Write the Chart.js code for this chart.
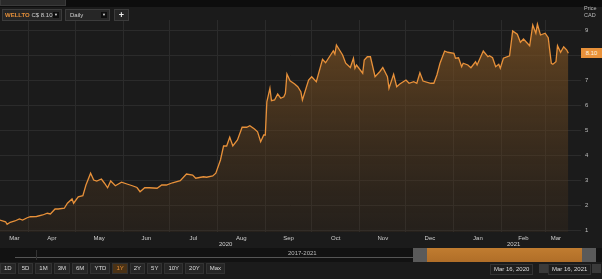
<!DOCTYPE html>
<html>
<head>
<meta charset="utf-8">
<script src="https://cdn.jsdelivr.net/npm/chart.js@4.4.1/dist/chart.umd.min.js"></script>
<style>
  html, body { margin: 0; padding: 0; background: #1b1b1b; overflow: hidden; }
  body { width: 602px; height: 279px; position: relative; font-family: "Liberation Sans", Arial, sans-serif; color: #cfcfcf; }
  #wrap { position: absolute; left: 0; top: 0; width: 602px; height: 250px; }
  .abs { position: absolute; }
  .topbar { left: 0; top: 0; width: 602px; height: 7px; background: #0d0d0d; }
  .topbox { left: 0; top: 0; width: 64px; height: 5px; background: #2a2a2a; border: 1px solid #3a3a3a; border-top: 0; }
  .box { height: 10px; background: #262626; border: 1px solid #3c3c3c; font-size: 6px; line-height: 10px; }
  .arrow { position: absolute; right: 2px; top: 2px; width: 6px; height: 6px; background: #0e0e0e; font-size: 4px; line-height: 6px; text-align: center; color: #ddd; }
  .ylab { font-size: 5.5px; color: #bdbdbd; }
  .yr { font-size: 6px; color: #cfcfcf; top: 241px; }
  .nav { left: 0; top: 248px; width: 602px; height: 14px; background: #121212; }
  .btns { left: 0; top: 263px; height: 11px; font-size: 6px; }
  .btn { display: inline-block; height: 9px; line-height: 9px; padding: 0 3px; margin-right: 2px; background: #262626; border: 1px solid #333; color: #ddd; }
  .btn.on { background: #4a3216; color: #e8913a; }
  .date { top: 264px; height: 9px; line-height: 9px; font-size: 6px; background: #1e1e1e; border: 1px solid #333; padding: 0 3px; color: #ddd; }
  .cal { top: 264px; width: 9px; height: 9px; background: #3a3a3a; }
</style>
</head>
<body>
<div id="wrap"><canvas id="chart" width="602" height="250"></canvas></div>

<div class="abs topbar"></div>
<div class="abs topbox"></div>
<div class="abs box" style="left:2px;top:9px;width:58px;"><span style="color:#e8913a;font-weight:bold;padding-left:2px">WELLTO</span> C$ 8.10<div class="arrow">&#9660;</div></div>
<div class="abs box" style="left:65px;top:9px;width:43px;"><span style="padding-left:4px">Daily</span><div class="arrow">&#9660;</div></div>
<div class="abs box" style="left:114px;top:9px;width:13px;text-align:center;font-size:9px;font-weight:bold;color:#eee">+</div>
<div class="abs ylab" style="left:584px;top:5px">Price</div>
<div class="abs ylab" style="left:584px;top:12px">CAD</div>
<div class="abs" style="left:581px;top:48px;width:21px;height:10px;background:#e8913a;color:#fff3e0;font-size:6px;line-height:10px;text-align:center">8.10</div>
<div class="abs yr" style="left:219px">2020</div>
<div class="abs yr" style="left:507px">2021</div>

<div class="abs nav">
  <div class="abs" style="left:15px;top:9px;width:400px;height:1px;background:#555"></div>
  <div class="abs" style="left:36px;top:2px;width:1px;height:10px;background:#333"></div>
  <div class="abs" style="left:288px;top:2px;font-size:6px;color:#bbb">2017-2021</div>
  <div class="abs" style="left:413px;top:0;width:14px;height:14px;background:#5a5a5a"></div>
  <div class="abs" style="left:427px;top:0;width:155px;height:14px;background:linear-gradient(#c07c30,#b06e28)"></div>
  <div class="abs" style="left:582px;top:0;width:14px;height:14px;background:#5a5a5a"></div>
</div>

<div class="abs btns">
  <span class="btn">1D</span><span class="btn">5D</span><span class="btn">1M</span><span class="btn">3M</span><span class="btn">6M</span><span class="btn">YTD</span><span class="btn on">1Y</span><span class="btn">2Y</span><span class="btn">5Y</span><span class="btn">10Y</span><span class="btn">20Y</span><span class="btn">Max</span>
</div>
<div class="abs date" style="left:490px">Mar 16, 2020</div>
<div class="abs cal" style="left:539px"></div>
<div class="abs date" style="left:548px">Mar 16, 2021</div>
<div class="abs cal" style="left:592px"></div>

<script>
// days since Mar 16, 2020 and closing price (CAD)
const days = [-3, 1, 2, 4, 7, 10, 12, 15, 17, 21, 25, 28, 30, 33, 35, 39, 41, 44, 45, 48, 51, 53, 56, 58, 60, 63, 65, 67, 69, 72, 76, 80, 83, 86, 88, 91, 94,
  99, 102, 105, 109, 114, 118, 122, 124, 129, 131, 135, 137, 140, 142, 144, 146, 148, 151, 154, 157, 159, 162, 164, 166, 168, 169, 170, 172, 173, 175, 177, 179, 181, 182, 183, 185, 188,
  190, 192, 193, 197, 199, 202, 206, 208, 213, 214, 215, 219, 221, 224, 226, 227, 228, 232, 233, 235, 237, 240, 243, 245, 248, 249, 252, 254, 256, 260, 262, 265, 267, 269, 271, 276, 278,
  280, 282, 285, 287, 291, 292, 294, 296, 297, 300, 302, 305, 306, 310, 313, 314, 316, 318, 320, 321, 323, 327, 329, 332, 334, 336, 340, 342, 344, 345, 347, 350, 352, 354, 355, 357, 358, 360, 362, 364, 365];
const prices = [1.43, 1.36, 1.26, 1.34, 1.39, 1.47, 1.43, 1.52, 1.56, 1.57, 1.63, 1.70, 1.67, 1.87, 1.87, 1.90, 2.10, 2.27, 2.10, 2.36, 2.40, 2.83, 3.30, 3.03, 2.99, 3.07, 2.90, 2.72, 2.99, 2.80, 2.94, 2.86, 2.80, 2.73, 2.56, 2.72, 2.72,
  2.70, 2.83, 2.83, 2.92, 3.00, 3.27, 3.23, 3.10, 3.16, 3.14, 3.19, 3.30, 3.83, 4.39, 4.39, 4.74, 4.39, 4.63, 5.14, 5.14, 5.20, 5.07, 4.96, 4.56, 4.83, 4.83, 6.16, 6.70, 6.20, 6.23, 6.47, 6.30, 6.36, 6.50, 7.27, 7.00, 6.87,
  6.76, 6.56, 6.23, 7.03, 7.16, 6.96, 7.86, 7.72, 8.20, 8.07, 8.43, 8.03, 7.70, 7.53, 7.90, 7.50, 7.63, 7.30, 7.83, 7.96, 7.96, 7.16, 7.36, 7.53, 7.16, 6.70, 7.26, 6.76, 6.87, 7.03, 6.90, 6.96, 6.90, 7.32, 6.99, 6.90, 6.90,
  7.23, 7.70, 8.19, 8.14, 8.10, 7.90, 7.92, 7.56, 7.70, 7.63, 7.52, 7.76, 7.63, 8.19, 7.96, 8.00, 7.92, 7.56, 7.66, 7.50, 7.90, 8.00, 8.99, 8.86, 8.54, 8.67, 8.40, 9.23, 8.90, 9.26, 8.83, 8.90, 8.72, 7.70, 7.66, 7.76, 8.40, 8.14, 8.36, 8.23, 8.10];

// month boundaries (grid) and month label positions, in days since Mar 16, 2020
const monthStarts = [16, 46, 77, 107, 138, 169, 199, 230, 260, 291, 322, 350];
const labelDays = [6.7, 31, 61.5, 92, 122.5, 153.5, 184, 214.5, 245, 275.5, 306.5, 336, 357];
const monthNames = ['Mar', 'Apr', 'May', 'Jun', 'Jul', 'Aug', 'Sep', 'Oct', 'Nov', 'Dec', 'Jan', 'Feb', 'Mar'];
const priceTicks = [1, 2, 3, 4, 5, 6, 7, 8, 9];

const ctx = document.getElementById('chart');

new Chart(ctx, {
  type: 'line',
  data: {
    datasets: [{
      data: days.map((d, i) => ({ x: d, y: prices[i] })),
      borderColor: '#e8913a',
      borderWidth: 1.3,
      pointRadius: 0,
      tension: 0,
      fill: 'start',
      backgroundColor: function (c) {
        const a = c.chart.chartArea;
        if (!a) return 'rgba(120,80,35,0.5)';
        const g = c.chart.ctx.createLinearGradient(0, a.top, 0, a.bottom);
        g.addColorStop(0, 'rgba(130,85,35,0.75)');
        g.addColorStop(1, 'rgba(70,50,30,0.25)');
        return g;
      }
    }]
  },
  options: {
    responsive: false,
    animation: false,
    layout: { padding: { top: 20, left: 0, right: 0, bottom: 0 } },
    plugins: { legend: { display: false }, tooltip: { enabled: false } },
    scales: {
      x: {
        type: 'linear', min: -2.6, max: 373.2,
        afterBuildTicks: s => { s.ticks = monthStarts.map(v => ({ value: v })); },
        afterFit: s => { s.height = 0; },
        ticks: { display: false },
        grid: { color: '#2b2b2b', lineWidth: 1, drawTicks: false },
        border: { display: false }
      },
      xl: {
        type: 'linear', position: 'bottom', min: -2.6, max: 373.2,
        afterBuildTicks: s => { s.ticks = labelDays.map(v => ({ value: v })); },
        afterFit: s => { s.height = 18; },
        ticks: {
          color: '#cfcfcf', font: { size: 6, family: 'Liberation Sans' }, padding: 3, maxRotation: 0, autoSkip: false,
          callback: (v, i) => monthNames[i]
        },
        grid: { display: false, drawTicks: false },
        border: { display: false }
      },
      y: {
        position: 'right', min: 0.95, max: 9.43,
        afterBuildTicks: s => { s.ticks = priceTicks.map(v => ({ value: v })); },
        afterFit: s => { s.width = 21; },
        ticks: { color: '#bdbdbd', font: { size: 6, family: 'Liberation Sans' }, padding: 4 },
        grid: { color: '#2b2b2b', lineWidth: 1, drawTicks: false },
        border: { display: false }
      }
    }
  }
});
</script>
</body>
</html>
